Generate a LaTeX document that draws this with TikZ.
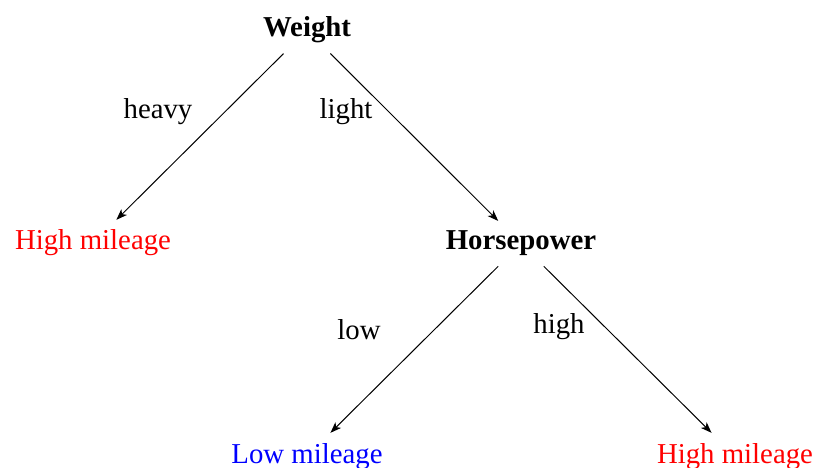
\documentclass[tikz,border=0pt]{standalone}
\usepackage{fontspec}
\setmainfont{Liberation Serif}
\usetikzlibrary{arrows.meta}
\begin{document}
\begin{tikzpicture}[x=1pt,y=-1pt,
  every node/.style={font=\fontsize{28.8pt}{34pt}\selectfont, anchor=base, inner sep=10pt},
  inner/.style={font=\fontsize{28.8pt}{34pt}\selectfont\bfseries},
  leafred/.style={text=red},
  leafblue/.style={text=blue},
  edgelabel/.style={inner sep=2pt},
  conn/.style={line width=1pt, -{Stealth[length=11pt,width=8pt,inset=3pt]}}
]
\useasboundingbox (0,0) rectangle (815,468);
\node[inner] (w) at (307,37) {Weight};
\node[leafred] (h1) at (93,250) {High mileage};
\node[inner] (hp) at (521,250) {Horsepower};
\node[leafblue] (lm) at (307,463) {Low mileage};
\node[leafred] (h2) at (735,463) {High mileage};
\node[edgelabel] (lh) at (158,119) {heavy};
\node[edgelabel] (ll) at (346,119) {light};
\node[edgelabel] (llow) at (359,339) {low};
\node[edgelabel] (lhigh) at (559,333) {high};
\draw[conn] (w) -- (h1);
\draw[conn] (w) -- (hp);
\draw[conn] (hp) -- (lm);
\draw[conn] (hp) -- (h2);
\end{tikzpicture}
\end{document}
